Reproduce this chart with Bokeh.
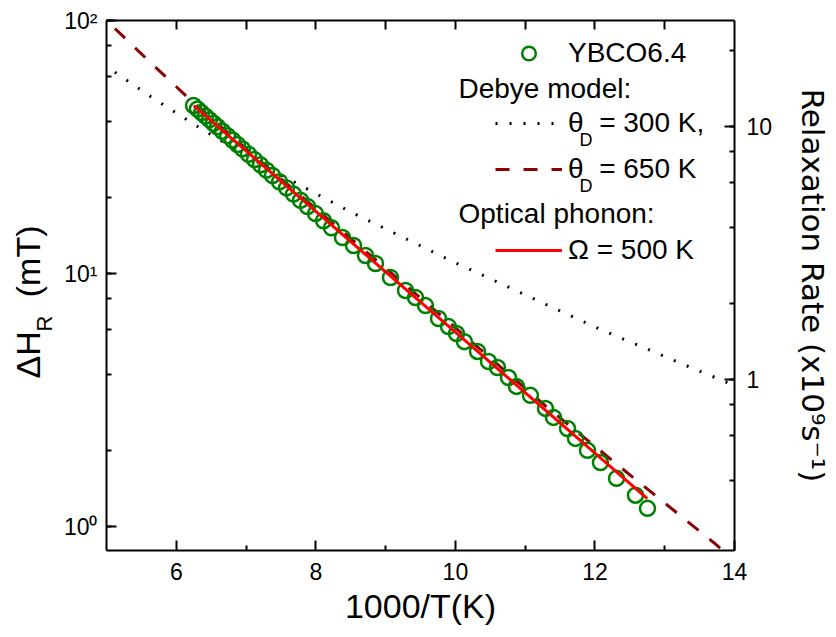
import math
from bokeh.plotting import figure
from bokeh.models import (Range1d, LogAxis, LinearAxis, LogScale, FixedTicker, LogTicker,
                          CustomJSTickFormatter, Label, Legend, LegendItem, Title)
from bokeh.embed import file_html
from bokeh.resources import INLINE

# ---------------- data ----------------
# YBCO6.4 measured linewidth: x = 1000/T (1/K), y = Delta H_R (mT)
ybco_x = [6.247, 6.304, 6.361, 6.419, 6.476, 6.533, 6.591, 6.662, 6.734, 6.806,
          6.877, 6.949, 7.035, 7.121, 7.207, 7.293, 7.379, 7.479, 7.580, 7.680,
          7.780, 7.881, 7.995, 8.110, 8.224, 8.382, 8.540, 8.712, 8.855, 9.070,
          9.285, 9.428, 9.572, 9.758, 9.901, 10.016, 10.130, 10.317, 10.474, 10.603,
          10.761, 10.876, 11.076, 11.291, 11.406, 11.607, 11.721, 11.893, 12.079, 12.309,
          12.581, 12.753]
ybco_y = [46.13, 44.67, 43.25, 41.88, 40.55, 39.26, 38.02, 36.51, 35.07, 33.69,
          32.36, 31.08, 29.61, 28.21, 26.88, 25.61, 24.40, 23.06, 21.79, 20.60,
          19.47, 18.40, 17.25, 16.17, 15.16, 13.88, 12.90, 11.78, 10.95, 9.64,
          8.57, 8.04, 7.47, 6.64, 6.17, 5.79, 5.38, 4.92, 4.49, 4.25,
          3.88, 3.58, 3.30, 2.93, 2.70, 2.44, 2.23, 2.00, 1.79, 1.55,
          1.33, 1.18]

# Debye model, theta_D = 300 K (dotted)
debye300_x = [5.12, 5.63, 6.35, 7.06, 7.78, 8.50, 9.21, 9.93, 10.65, 11.36, 12.08, 12.80, 13.51, 14.0]
debye300_y = [62.5, 50.1, 37.4, 28.6, 22.3, 17.5, 14.07, 11.26, 9.13, 7.41, 6.01, 4.96, 4.10, 3.61]

# Debye model, theta_D = 650 K (dashed)
debye650_x = [5.12, 5.63, 6.18, 7.06, 8.50, 9.93, 11.32, 12.55, 13.70, 13.84]
debye650_y = [93.0, 68.2, 49.2, 30.1, 13.75, 6.34, 2.95, 1.56, 0.865, 0.80]

# Optical phonon, Omega = 500 K (solid)
optical_x = [6.25, 7.0, 8.0, 9.0, 10.0, 11.0, 12.0, 12.75]
optical_y = [46.1, 30.5, 17.6, 10.15, 5.86, 3.38, 1.95, 1.29]

# axes
x_range = (5, 14)
y_range = (0.804, 100)
rate_factor = 3.81            # mT per 1e9 s^-1 (right axis scaling)
bottom_ticks = [6, 8, 10, 12, 14]
bottom_minor = [7, 9, 11, 13]
top_ticks = [6, 7, 8, 9, 10, 11, 12, 13]

FONT = "Liberation Sans"

p = figure(width=836, height=637, x_range=x_range, y_range=y_range,
           y_axis_type="log", output_backend="svg", toolbar_location=None,
           min_border_left=106, min_border_right=102, min_border_top=20,
           min_border_bottom=87)
p.outline_line_color = None
p.xgrid.visible = False
p.ygrid.visible = False
p.background_fill_color = "white"
p.border_fill_color = "white"

p.extra_y_ranges = {"rate": Range1d(y_range[0] / rate_factor, y_range[1] / rate_factor)}
p.extra_y_scales = {"rate": LogScale()}


def style_axis(ax, font_size="23px"):
    ax.axis_line_color = "black"
    ax.axis_line_width = 2
    ax.major_tick_line_color = "black"
    ax.major_tick_line_width = 2
    ax.minor_tick_line_color = "black"
    ax.minor_tick_line_width = 2
    ax.major_tick_in = 10
    ax.major_tick_out = 0
    ax.minor_tick_in = 5
    ax.minor_tick_out = 0
    ax.major_label_text_font = FONT
    ax.major_label_text_font_size = font_size
    ax.major_label_text_color = "black"
    ax.axis_label_text_font = FONT
    ax.axis_label_text_font_style = "normal"
    ax.axis_label_text_color = "black"


# bottom axis
xa = p.xaxis[0]
xa.ticker = FixedTicker(ticks=bottom_ticks, minor_ticks=bottom_minor)
style_axis(xa)
xa.major_label_standoff = 12
xa.axis_label = "1000/T(K)"
xa.axis_label_text_font_size = "34px"
xa.axis_label_standoff = 4

# left axis
ya = p.yaxis[0]
ya.ticker = LogTicker()
style_axis(ya)
ya.major_label_standoff = 9
ya.formatter = CustomJSTickFormatter(code="""
const e = Math.round(Math.log10(tick));
const sup = {'0':'\u2070','1':'\u00b9','2':'\u00b2','3':'\u00b3','-':'\u207b'};
return '10' + String(e).split('').map(c => sup[c]).join('');
""")

# top axis (inward ticks only, no labels)
ta = LinearAxis(ticker=FixedTicker(ticks=[], minor_ticks=top_ticks))
style_axis(ta)
ta.minor_tick_in = 9
ta.major_label_standoff = 0
p.add_layout(ta, "above")

# right axis (relaxation rate)
ra = LogAxis(y_range_name="rate", ticker=LogTicker())
style_axis(ra)
ra.major_label_standoff = 12
ra.formatter = CustomJSTickFormatter(code="return String(Math.round(tick*1000)/1000);")
ra.axis_label = "Relaxation Rate (x10\u2079s\u207b\u00b9)"
ra.axis_label_text_font = "DejaVu Sans"
ra.axis_label_text_font_size = "31px"
ra.axis_label_standoff = 20
p.add_layout(ra, "right")

# left axis title: Delta H_R (mT), subscript set as its own smaller title
t_sub = Title(text="R", align="left", offset=219, vertical_align="top", standoff=4,
              text_font=FONT, text_font_size="22px", text_font_style="normal",
              text_color="black")
p.add_layout(t_sub, "left")
t_main = Title(text="\u0394H\u2002\u2002(mT)", align="left", offset=172, vertical_align="top",
               standoff=-38, text_font=FONT, text_font_size="34px",
               text_font_style="normal", text_color="black")
p.add_layout(t_main, "left")

# ---------------- curves and data ----------------
r300 = p.line(debye300_x, debye300_y, line_color="black", line_width=3,
              line_dash="2 12")
r650 = p.line(debye650_x, debye650_y, line_color="#8b0000", line_width=3,
              line_dash="14 14")
rpts = p.scatter(ybco_x, ybco_y, marker="circle", size=15, line_color="#008000",
                 fill_color=None, line_width=2.5)
ropt = p.line(optical_x, optical_y, line_color="#ff0000", line_width=3)

# ---------------- legend ----------------
LEG_FS = "28px"


def add_legend(label, rend, loc):
    leg = Legend(items=[LegendItem(label=label, renderers=[rend])], location=loc,
                 glyph_width=67, glyph_height=34, label_height=34, label_standoff=6,
                 padding=0, margin=0, spacing=0, border_line_color=None,
                 background_fill_alpha=0, label_text_font=FONT,
                 label_text_font_size=LEG_FS, label_text_color="black",
                 label_text_baseline="middle")
    p.add_layout(leg)


# frame-relative screen positions (frame bottom-left is the origin)
add_legend("YBCO6.4", rpts, (389, 480))
add_legend("\u03b8  = 300 K,", r300, (389, 410))
add_legend("\u03b8  = 650 K", r650, (389, 364))
add_legend("\u03a9 = 500 K", ropt, (389, 283))


def lab(text, x, y, size, align="left", baseline="middle"):
    p.add_layout(Label(x=x, y=y, x_units="screen", y_units="screen", text=text,
                       text_font=FONT, text_font_size=size,
                       text_color="black", text_align=align, text_baseline=baseline))


lab("Debye model:", 352, 462, LEG_FS)
lab("Optical phonon:", 352, 337, LEG_FS)
lab("D", 473, 411, "18px")
lab("D", 473, 365, "18px")

open("out.html", "w").write(file_html(p, INLINE))
